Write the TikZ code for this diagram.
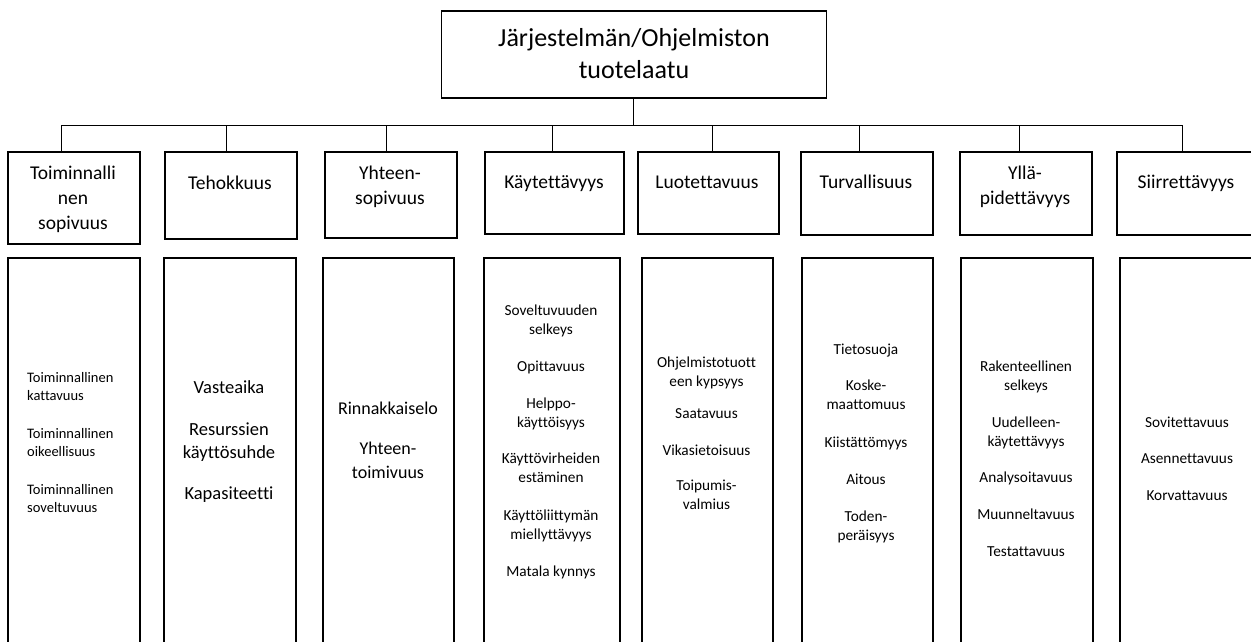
\documentclass[tikz,border=0pt]{standalone}
\usepackage{fontspec}
\setmainfont{Carlito}[Ligatures={NoCommon}]
\begin{document}
\begin{tikzpicture}[x=1pt,y=-1pt,
  box/.style={draw=black, line width=1.6pt, inner sep=0pt, anchor=north west},
  link/.style={draw=black, line width=0.9pt},
  head/.style={font=\fontsize{19.5}{25}\selectfont, align=center, inner sep=0pt},
  item/.style={font=\fontsize{15.3}{19}\selectfont, align=center, inner sep=0pt},
]
\clip (0,0) rectangle (1251,642);
\fill[white] (0,0) rectangle (1251,642);

% root
\node[draw=black, line width=1.6pt, minimum width=385pt, minimum height=87pt, inner sep=0pt]
  (top) at (634,54.5) {};
\node[font=\fontsize{26}{32}\selectfont, align=center, inner sep=0pt]
  (rt) at (634,53.3) {Järjestelmän/Ohjelmiston\\tuotelaatu};

% characteristic boxes
\node[box, minimum width=132pt, minimum height=92pt] (h1) at (7,151) {};
\node[box, minimum width=132pt, minimum height=87pt] (h2) at (164,151) {};
\node[box, minimum width=132pt, minimum height=86pt] (h3) at (324,151) {};
\node[box, minimum width=139pt, minimum height=82pt] (h4) at (484,151) {};
\node[box, minimum width=141pt, minimum height=82pt] (h5) at (637,151) {};
\node[box, minimum width=132pt, minimum height=83pt] (h6) at (800,151) {};
\node[box, minimum width=132pt, minimum height=83pt] (h7) at (959,151) {};
\node[box, minimum width=139pt, minimum height=83pt] (h8) at (1116,151) {};

\node[head] (t1) at (73,199) {Toiminnalli\\nen\\sopivuus};
\node[head, anchor=base] (t2) at (230,189.5) {Tehokkuus};
\node[head] (t3) at (390,186.5) {Yhteen-\\sopivuus};
\node[head, anchor=base] (t4) at (554,188.5) {Käytettävyys};
\node[head, anchor=base] (t5) at (707,188.5) {Luotettavuus};
\node[head, anchor=base] (t6) at (866,188.5) {Turvallisuus};
\node[head] (t7) at (1025,186.5) {Yllä-\\pidettävyys};
\node[head, anchor=base] (t8) at (1186,188) {Siirrettävyys};

% sub-characteristic columns
\node[box, minimum width=132pt, minimum height=400pt] (b1) at (7,257) {};
\node[box, minimum width=132pt, minimum height=400pt] (b2) at (163,257) {};
\node[box, minimum width=131pt, minimum height=400pt] (b3) at (322,257) {};
\node[box, minimum width=136pt, minimum height=400pt] (b4) at (483,257) {};
\node[box, minimum width=131pt, minimum height=400pt] (b5) at (641,257) {};
\node[box, minimum width=131pt, minimum height=400pt] (b6) at (801,257) {};
\node[box, minimum width=132pt, minimum height=400pt] (b7) at (960,257) {};
\node[box, minimum width=136pt, minimum height=400pt] (b8) at (1119,257) {};

\node[item, font=\fontsize{14.5}{17.5}\selectfont, align=left, anchor=west] (l1) at (27,442.5)
  {Toiminnallinen\\kattavuus\\[21pt]Toiminnallinen\\oikeellisuus\\[21pt]Toiminnallinen\\soveltuvuus};
\node[item, font=\fontsize{18.5}{23}\selectfont] (l2) at (229,442)
  {Vasteaika\\[19pt]Resurssien\\käyttösuhde\\[18pt]Kapasiteetti};
\node[item, font=\fontsize{18}{24}\selectfont] (l3) at (388,440)
  {Rinnakkaiselo\\[16pt]Yhteen-\\toimivuus};
\node[item] (l4) at (551,442)
  {Soveltuvuuden\\selkeys\\[18pt]Opittavuus\\[18pt]Helppo-\\käyttöisyys\\[17pt]Käyttövirheiden\\estäminen\\[19pt]Käyttöliittymän\\miellyttävyys\\[18pt]Matala kynnys};
\node[item] (l5) at (706.5,433.5)
  {Ohjelmistotuott\\een kypsyys\\[13pt]Saatavuus\\[18pt]Vikasietoisuus\\[16pt]Toipumis-\\valmius};
\node[item] (l6) at (866,443)
  {Tietosuoja\\[17pt]Koske-\\maattomuus\\[19pt]Kiistättömyys\\[18pt]Aitous\\[18pt]Toden-\\peräisyys};
\node[item] (l7) at (1026,459)
  {Rakenteellinen\\selkeys\\[18pt]Uudelleen-\\käytettävyys\\[17pt]Analysoitavuus\\[18pt]Muunneltavuus\\[18pt]Testattavuus};
\node[item] (l8) at (1187,458.5)
  {Sovitettavuus\\[17pt]Asennettavuus\\[18pt]Korvattavuus};

% connectors: root down to the bus, bus across, stubs down to each box
\coordinate (bus) at (633,125);
\coordinate (s1) at ([xshift=-12pt]h1.north);
\coordinate (s2) at ([xshift=-4pt]h2.north);
\coordinate (s3) at ([xshift=-4pt]h3.north);
\coordinate (s4) at ([xshift=-1.5pt]h4.north);
\coordinate (s5) at ([xshift=4pt]h5.north);
\coordinate (s6) at ([xshift=-7pt]h6.north);
\coordinate (s7) at ([xshift=-6pt]h7.north);
\coordinate (s8) at ([xshift=-3.5pt]h8.north);

\draw[link] ([xshift=-1pt]top.south) -- ([xshift=-1pt]top.south |- bus);
\draw[link] (s1 |- bus) -- (s8 |- bus);
\foreach \s in {s1,s2,s3,s4,s5,s6,s7,s8}
  \draw[link] (\s |- bus) -- (\s);
\end{tikzpicture}
\end{document}
